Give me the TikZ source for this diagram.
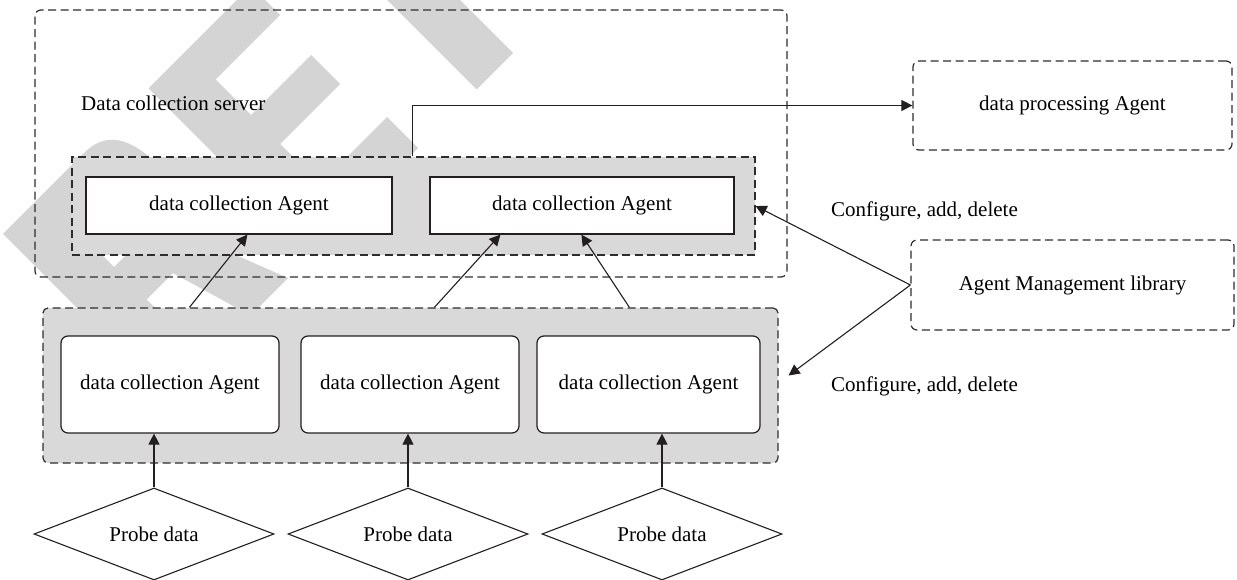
\documentclass[tikz,border=0pt]{standalone}
\usepackage{fontspec}
\setmainfont{Liberation Serif}
\usetikzlibrary{arrows.meta,shapes.geometric,calc}
\definecolor{groupfill}{RGB}{216,217,216}
\definecolor{stampgray}{RGB}{212,212,212}
\definecolor{edge}{RGB}{35,31,32}
\definecolor{dashedge}{RGB}{45,45,45}

\begin{document}
\begin{tikzpicture}[x=1pt,y=-1pt,
  font=\fontsize{21pt}{25pt}\selectfont,
  dashbox/.style={draw=dashedge, line width=1.2pt, dash pattern=on 8pt off 4.5pt,
                  rectangle, inner sep=0pt},
  plainbox/.style={draw=edge, line width=1.2pt, fill=white, rectangle, inner sep=0pt},
  probe/.style={draw=edge, line width=1.1pt, fill=white, diamond, aspect=2.6,
                inner sep=0pt, minimum width=240pt, minimum height=92pt},
  link/.style={draw=edge, line width=1.1pt, -{Triangle[length=11pt,width=11pt]}},
  label/.style={anchor=base west, inner sep=0pt}
]
\useasboundingbox (0,0) rectangle (1237,580);

% background stamp lettering, set diagonally
\begin{scope}
  \clip (0,0) rectangle (1237,580);
  \begin{scope}[x={(0.5pt,0.5pt)}, y={(0.5pt,-0.5pt)}]
    % R
    \fill[stampgray, even odd rule]
      (-231,237) -- (-70,237) .. controls (-25,237) and (-6,265) .. (-6,335)
      .. controls (-6,395) and (-20,420) .. (-45,425)
      -- (10,566) -- (-65,566) -- (-100,446) -- (-153,446) -- (-153,566)
      -- (-231,566) -- cycle
      (-153,295) -- (-90,295) .. controls (-68,295) and (-62,310) .. (-62,338)
      .. controls (-62,368) and (-70,381) .. (-92,381) -- (-153,381) -- cycle;
    % E
    \fill[stampgray]
      (60,237) -- (265,237) -- (265,295) -- (136,295) -- (136,366) -- (256,366)
      -- (256,424) -- (136,424) -- (136,504) -- (270,504) -- (270,566)
      -- (60,566) -- cycle;
    % T
    \fill[stampgray]
      (303,237) -- (543,237) -- (543,295) -- (460,295) -- (460,566)
      -- (387,566) -- (387,295) -- (303,295) -- cycle;
  \end{scope}
\end{scope}

% server enclosure
\node[dashbox, rounded corners=6pt, minimum width=752pt, minimum height=267pt]
  (server) at (411,143.5) {};
\node[label] (serverlabel) at (81,111) {Data collection server};

% upper agent group
\node[dashbox, fill=groupfill, minimum width=683pt, minimum height=98pt]
  (ug) at (413.5,206) {};
\node[plainbox, minimum width=306pt, minimum height=57pt]
  (ub1) at (239,205.5) {data collection Agent};
\node[plainbox, minimum width=304pt, minimum height=57pt]
  (ub2) at (582,205.5) {data collection Agent};

% lower agent group
\node[dashbox, fill=groupfill, rounded corners=5pt, minimum width=735pt, minimum height=155pt]
  (lg) at (410.5,385.5) {};
\node[plainbox, rounded corners=7pt, minimum width=218pt, minimum height=97pt]
  (lb1) at (170,384.5) {data collection Agent};
\node[plainbox, rounded corners=7pt, minimum width=218pt, minimum height=97pt]
  (lb2) at (410,384.5) {data collection Agent};
\node[plainbox, rounded corners=7pt, minimum width=223pt, minimum height=97pt]
  (lb3) at (648.5,384.5) {data collection Agent};

% right-hand side
\node[dashbox, rounded corners=6pt, minimum width=319pt, minimum height=89pt]
  (dp) at (1072.5,105.5) {data processing Agent};
\node[dashbox, rounded corners=6pt, minimum width=323pt, minimum height=90pt]
  (am) at (1072.5,285) {Agent Management library};
\node[label] (cfg1) at (831,216.5) {Configure, add, delete};
\node[label] (cfg2) at (831,391.5) {Configure, add, delete};

% probes
\node[probe] (p1) at (154,534) {Probe data};
\node[probe] (p2) at (408,534) {Probe data};
\node[probe] (p3) at (662,534) {Probe data};

% connectors
\draw[link] (p1.north) -- (p1.north |- lb1.south);
\draw[link] (p2.north) -- (p2.north |- lb2.south);
\draw[link] (p3.north) -- (p3.north |- lb3.south);

\draw[link] ($(lg.north west)+(147,0)$) -- ($(ub1.south west)+(162,0)$);
\draw[link] ($(lg.north west)+(392,0)$) -- ($(ub2.south west)+(71,0)$);
\draw[link] ($(lg.north west)+(587,0)$) -- ($(ub2.south west)+(152,0)$);

\draw[link] ($(ug.north west)+(341,0)$) |- (dp.west);

\draw[link] (am.west) -- (ug.east);
\draw[link] (am.west) -- ($(lg.east)+(10,-10)$);
\end{tikzpicture}
\end{document}
